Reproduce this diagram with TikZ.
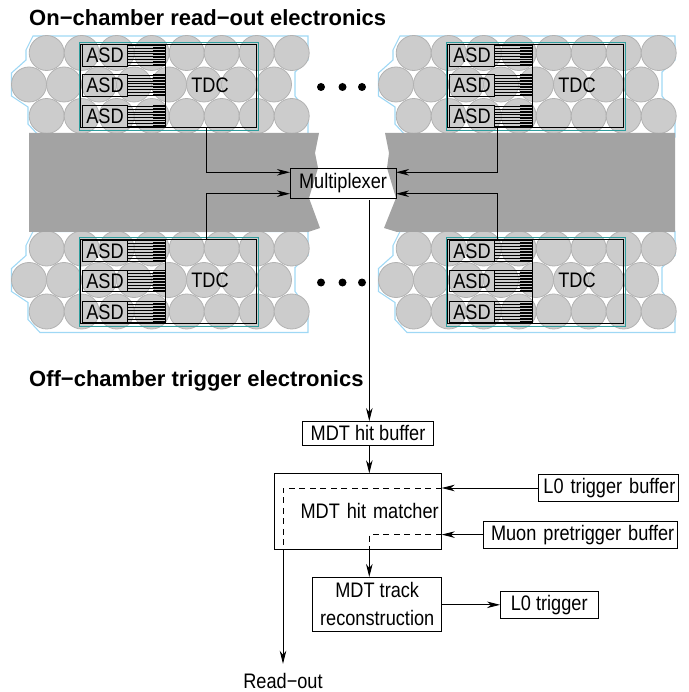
\documentclass[tikz,border=0pt]{standalone}
\usepackage{fontspec}
\setmainfont[FakeStretch=0.865]{Liberation Sans}
\newfontfamily\headfont{Liberation Sans}
\usetikzlibrary{positioning,arrows.meta}
\definecolor{tubegray}{HTML}{CCCCCC}
\definecolor{tubeline}{HTML}{B2B2B2}
\definecolor{bandgray}{HTML}{A3A3A3}
\definecolor{outlineblue}{HTML}{9FD8F5}
\definecolor{tdcteal}{HTML}{2F9E9E}
\tikzset{
    box/.style={draw, line width=0.9pt, inner sep=0pt, outer sep=0pt, align=center},
    rbox/.style={box, align=right},
    tube/.style={draw=tubeline, fill=tubegray, line width=0.8pt},
    flow/.style={line width=0.9pt, -{Stealth[length=13pt, width=6.5pt, inset=4pt]}},
    trace/.style={line width=0.9pt, dashed, dash pattern=on 6pt off 4.5pt},
    heading/.style={anchor=base west, inner sep=0pt, font=\headfont\fontsize{22}{26}\selectfont\bfseries},
}
\newcommand{\chamber}[3]{
    \begin{scope}[shift={(#2,#3)}]
        \draw[outlineblue, line width=1.1pt] (33,36) -- (308,36) -- (308,60) -- (295,72) -- (295,96) -- (308,113)
            -- (308,137) -- (40,137) -- (28,124) -- (28,107) -- (11.5,96) -- (11.5,73) -- (26,60) -- (26,50) -- cycle;
        \foreach \i in {0,...,7} {
            \draw[tube] (46.7+35*\i,53) circle (17.5);
            \draw[tube] (29+35*\i,84.5) circle (17.5);
            \draw[tube] (46.7+35*\i,116) circle (17.5);
        }
        \draw[tdcteal, line width=0.9pt] (79.5,42) rectangle (258.5,130.5);
        \node[box, minimum width=176pt, minimum height=83.7pt] (#1) at (168,85.9) {};
        \node (#1text) at (210,85) {TDC};
        \node[box, minimum width=45pt, minimum height=21.5pt] (#1asdA) at (105,55.5) {ASD};
        \node[box, minimum width=45pt, minimum height=21.5pt] (#1asdB) at (105,85.5) {ASD};
        \node[box, minimum width=45pt, minimum height=21.5pt] (#1asdC) at (105,116.5) {ASD};
        \foreach \top in {45,75,106} {
            \foreach \j in {0,...,7} {
                \draw[line width=0.45pt] (127.5,\top+2.9*\j) -- (165,\top+2.9*\j);
                \draw[line width=1.9pt] (153,\top+2.9*\j) -- (165,\top+2.9*\j);
            }
        }
        \draw[line width=0.9pt] (165,44) -- (165,127.7);
    \end{scope}
}
\begin{document}
\begin{tikzpicture}[x=1pt, y=-1pt, font=\fontsize{21}{28}\selectfont]
    \useasboundingbox (0,0) rectangle (688,692);

    \chamber{tdcA}{0}{0}
    \chamber{tdcB}{367}{0}
    \chamber{tdcC}{0}{195.5}
    \chamber{tdcD}{367}{195.5}

    \fill[bandgray] (29,133) -- (319,133) -- (315,153) -- (318,168) -- (309,198) -- (320,228) -- (308,232) -- (29,232) -- cycle;
    \fill[bandgray] (675,133) -- (385,133) -- (389,153) -- (387,168) -- (396,198) -- (384,228) -- (397,232) -- (675,232) -- cycle;

    \foreach \x in {321,342.5,362} {
        \fill (\x,87) circle (4);
        \fill (\x,282.5) circle (4);
    }

    \node[heading] (onchamber) at (29,26) {On−chamber read−out electronics};
    \node[heading] (offchamber) at (29,386.5) {Off−chamber trigger electronics};

    \node[box, minimum width=106pt, minimum height=30.4pt] (mux) at (343,183.5) {Multiplexer};
    \node[box, minimum width=130.6pt, minimum height=24.3pt] (hitbuffer) at (368,433.2) {MDT hit buffer};
    \node[rbox, text width=161.4pt, inner xsep=3pt, minimum height=76pt] (matcher) at (358,511.3) {MDT hit matcher};
    \node[rbox, text width=134pt, inner xsep=3pt, minimum height=27.4pt] (triggerbuffer) at (608.3,488) {L0 trigger buffer};
    \node[rbox, text width=188pt, inner xsep=3pt, minimum height=27.3pt] (pretrigger) at (580.3,534.6) {Muon pretrigger buffer};
    \node[box, minimum width=129pt, minimum height=54pt] (track) at (377.2,604) {MDT track\\reconstruction};
    \node[box, minimum width=98.3pt, minimum height=26.3pt] (trigger) at (549.2,604.8) {L0 trigger};
    \node[inner xsep=0pt, inner ysep=1pt, outer sep=0pt] (readout) at (283,680.5) {Read−out};

    \draw[flow] ([xshift=38.7pt]tdcA.south) |- ([yshift=11.2pt]mux.west);
    \draw[flow] ([xshift=38.7pt]tdcC.north) |- ([yshift=-10.2pt]mux.west);
    \draw[flow] ([xshift=-37.8pt]tdcB.south) |- ([yshift=11.2pt]mux.east);
    \draw[flow] ([xshift=-37.8pt]tdcD.north) |- ([yshift=-10.2pt]mux.east);
    \draw[flow] ([xshift=26.3pt]mux.south) ++(0,1.5) -- (hitbuffer.north -| 369.3,0);
    \draw[flow] (hitbuffer.south -| 369.3,0) -- (matcher.north -| 369.3,0);
    \draw[flow] (triggerbuffer.west) -- (matcher.east |- triggerbuffer.west);
    \draw[flow] (pretrigger.west) -- (matcher.east |- pretrigger.west);
    \draw[trace] (matcher.east |- triggerbuffer.west) -| (matcher.south -| readout.north);
    \draw[trace] (matcher.east |- pretrigger.west) -| (matcher.south -| 369.3,0);
    \draw[flow, shorten >=8pt] (matcher.south -| readout.north) -- (readout.north);
    \draw[flow] (matcher.south -| 369.3,0) -- (track.north -| 369.3,0);
    \draw[flow] (track.east |- trigger.west) -- (trigger.west);
\end{tikzpicture}
\end{document}
